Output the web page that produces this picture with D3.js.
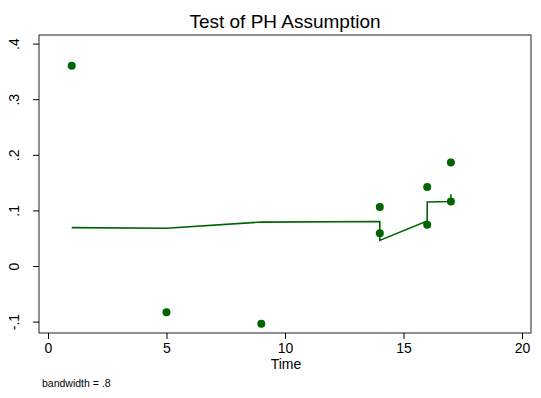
<!DOCTYPE html>
<html>
<head>
<meta charset="utf-8">
<script src="https://cdn.jsdelivr.net/npm/d3@7"></script>
<style>
  body { margin: 0; background: #fff; }
  text { font-family: "Liberation Sans", Arial, sans-serif; fill: #000; }
</style>
</head>
<body>
<div id="graph"></div>
<script>
// Scaled Schoenfeld residuals (points) and lowess smooth (line)
var pointTime  = [1, 5, 9, 14, 14, 16, 16, 17, 17];
var pointResid = [0.360, -0.083, -0.104, 0.106, 0.059, 0.142, 0.074, 0.186, 0.116];

var lineTime   = [1, 5, 9, 14, 14, 16, 16, 17, 17];
var lineSmooth = [0.069, 0.068, 0.079, 0.080, 0.046, 0.081, 0.115, 0.116, 0.129];

var xTicks = [0, 5, 10, 15, 20];
var yTicks = [-0.1, 0, 0.1, 0.2, 0.3, 0.4];
var yTickLabels = ['-.1', '0', '.1', '.2', '.3', '.4'];

var width = 541, height = 398;
var frame = { left: 39, top: 35, right: 531, bottom: 333 };
var green = '#006400';

var xScale = d3.scaleLinear()
               .domain([0, 20])
               .range([48, 522]);

var yScale = d3.scaleLinear()
               .domain([0, 0.4])
               .range([266, 43.6]);

var svg = d3.select('#graph')
            .append('svg')
            .attr('width', width)
            .attr('height', height);

// plot frame
svg.append('rect')
   .attr('x', frame.left)
   .attr('y', frame.top)
   .attr('width', frame.right - frame.left)
   .attr('height', frame.bottom - frame.top)
   .attr('fill', 'none')
   .attr('stroke', '#555')
   .attr('stroke-width', 1.3);

// axes
var xAxis = d3.axisBottom(xScale)
              .tickValues(xTicks)
              .tickSize(6)
              .tickPadding(4)
              .tickFormat(d3.format('d'));

var gx = svg.append('g')
            .attr('transform', 'translate(0,' + frame.bottom + ')')
            .call(xAxis);
gx.select('.domain').remove();
gx.selectAll('text').style('font-size', '14px');

var yAxis = d3.axisLeft(yScale)
              .tickValues(yTicks)
              .tickSize(6)
              .tickFormat(function (d, i) { return yTickLabels[i]; });

var gy = svg.append('g')
            .attr('transform', 'translate(' + frame.left + ',0)')
            .call(yAxis);
gy.select('.domain').remove();
gy.selectAll('text')
  .style('font-size', '14px')
  .attr('text-anchor', 'middle')
  .attr('x', 0)
  .attr('dy', 0)
  .attr('transform', function () { return 'translate(-20,0) rotate(-90)'; });

gx.selectAll('line').attr('stroke', '#000');
gy.selectAll('line').attr('stroke', '#000');

// lowess line
var lineData = lineTime.map(function (t, i) { return { x: t, y: lineSmooth[i] }; });
var line = d3.line()
             .x(function (d) { return xScale(d.x); })
             .y(function (d) { return yScale(d.y); });

svg.append('path')
   .datum(lineData)
   .attr('d', line)
   .attr('fill', 'none')
   .attr('stroke', green)
   .attr('stroke-width', 1.6);

// residual points
svg.selectAll('circle.pt')
   .data(pointTime)
   .enter()
   .append('circle')
   .attr('class', 'pt')
   .attr('cx', function (d) { return xScale(d); })
   .attr('cy', function (d, i) { return yScale(pointResid[i]); })
   .attr('r', 4)
   .attr('fill', green);

// titles
svg.append('text')
   .attr('x', 285)
   .attr('y', 28)
   .attr('text-anchor', 'middle')
   .style('font-size', '19px')
   .text('Test of PH Assumption');

svg.append('text')
   .attr('x', 286)
   .attr('y', 369)
   .attr('text-anchor', 'middle')
   .style('font-size', '14px')
   .text('Time');

svg.append('text')
   .attr('x', 42)
   .attr('y', 387)
   .style('font-size', '10.5px')
   .text('bandwidth = .8');
</script>
</body>
</html>
